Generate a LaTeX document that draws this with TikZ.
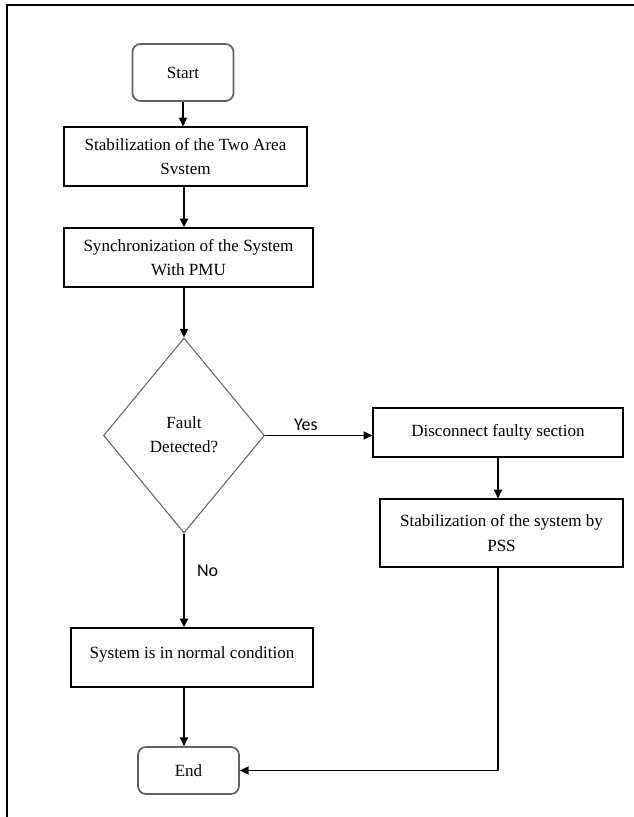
\documentclass[tikz,border=0pt]{standalone}
\usepackage{fontspec}
\setmainfont{Liberation Serif}
\newfontfamily\yesnofont{Carlito}
\usetikzlibrary{arrows.meta,shapes.geometric}

\begin{document}
\begin{tikzpicture}[x=0.75pt,y=-0.75pt,
  every node/.style={font=\fontsize{12.8}{18.4}\selectfont},
  procbox/.style={draw,line width=0.9pt,inner sep=0pt,align=center},
  termbox/.style={draw=black!62,line width=1.3pt,rounded corners=6pt,inner sep=0pt,minimum width=75.75pt},
  decbox/.style={diamond,draw=black!60,line width=0.8pt,inner sep=0pt,minimum width=120.75pt,minimum height=146.25pt},
  arr/.style={line width=0.9pt,-{Triangle[length=6.5pt,width=6pt]}},
  lbl/.style={font=\yesnofont\fontsize{13.5}{16}\selectfont}]
  \useasboundingbox (0,0) rectangle (634,817);
  % frame of the page, left and top only
  \draw[line width=1.5pt] (6.7,817) -- (6.7,5) -- (634,5);

  \node[termbox,minimum height=42.75pt] (start) at (183,72.5) {Start};
  \node[procbox,minimum width=182.25pt,minimum height=44.25pt] (stab) at (185.5,156.5)
    {Stabilization of the Two Area\\Svstem};
  \node[procbox,minimum width=186.75pt,minimum height=44.25pt] (sync) at (188.5,257.5)
    {Synchronization of the System\\With PMU};
  \node[decbox] (dec) at (184,435.5)
    {\raisebox{11pt}{\begin{tabular}{@{}c@{}}Fault\\Detected?\end{tabular}}};
  \node[procbox,minimum width=187.5pt,minimum height=36.75pt] (disc) at (498,432.5)
    {Disconnect faulty section};
  \node[procbox,minimum width=182.25pt,minimum height=51pt] (pss) at (501.5,533)
    {Stabilization of the system by\\PSS};
  \node[procbox,minimum width=181.5pt,minimum height=44.25pt] (normal) at (192,657.5)
    {\raisebox{7pt}{System is in normal condition}};
  \node[termbox,minimum height=35.25pt] (stop) at (188.5,770.5) {End};

  \draw[arr] (start.south) -- (start.south |- stab.north);
  \draw[arr] (stab.south -| dec.north) -- (dec.north |- sync.north);
  \draw[arr] (sync.south -| dec.north) -- (dec.north);
  \draw[arr] (dec.east) -- (dec.east -| disc.west) node[lbl,above,pos=0.38] {Yes};
  \draw[arr] (disc.south) -- (disc.south |- pss.north);
  \draw[arr] (dec.south) -- (dec.south |- normal.north) node[lbl,right,pos=0.4,xshift=6pt] {No};
  \draw[arr] (normal.south -| dec.south) -- (dec.south |- stop.north);
  \draw[arr] (disc.south |- pss.south) |- (stop.east);
\end{tikzpicture}
\end{document}
